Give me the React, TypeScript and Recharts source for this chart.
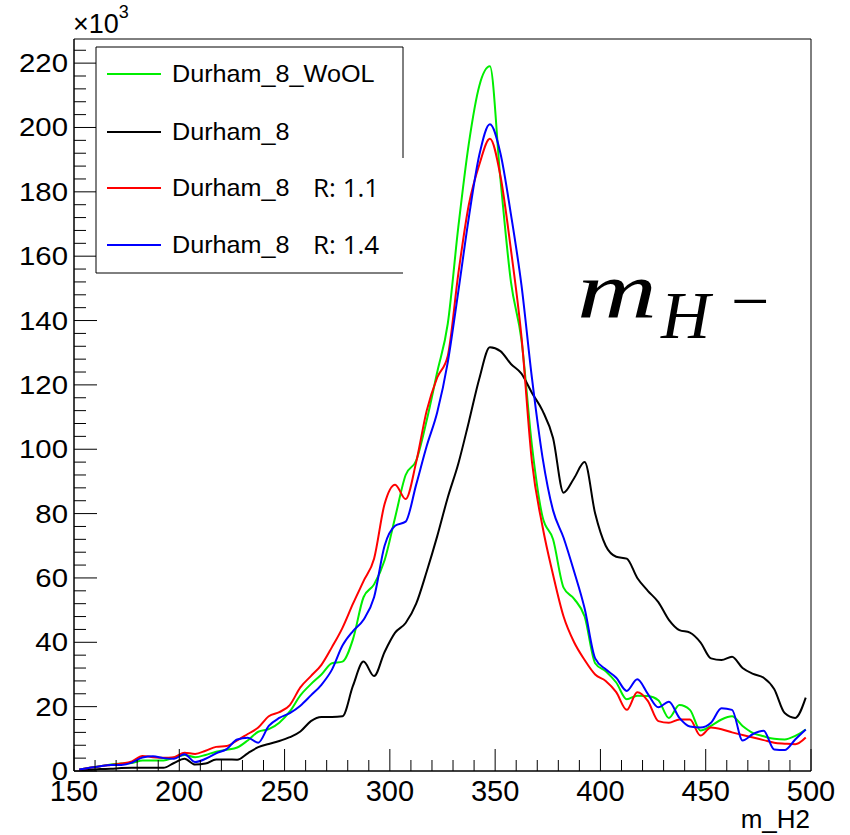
import { LineChart, Line, XAxis, YAxis, ReferenceArea } from 'recharts';

// bin centres of m_H2 (GeV)
const massBins = [
  152.5, 157.5, 162.5, 167.5, 172.5, 177.5, 182.5, 187.5, 192.5, 197.5,
  202.5, 207.5, 212.5, 217.5, 222.5, 227.5, 232.5, 237.5, 242.5, 247.5,
  252.5, 257.5, 262.5, 267.5, 272.5, 277.5, 282.5, 287.5, 292.5, 297.5,
  302.5, 307.5, 312.5, 317.5, 322.5, 327.5, 332.5, 337.5, 342.5, 347.5,
  352.5, 357.5, 362.5, 367.5, 372.5, 377.5, 382.5, 387.5, 392.5, 397.5,
  402.5, 407.5, 412.5, 417.5, 422.5, 427.5, 432.5, 437.5, 442.5, 447.5,
  452.5, 457.5, 462.5, 467.5, 472.5, 477.5, 482.5, 487.5, 492.5, 497.5,
];

// entries, in units of 10^3
const woolValues = [
  0.5, 1.0, 1.5, 2.0, 2.3, 2.5, 3.3, 3.3, 3.3, 4.2,
  5.0, 4.3, 5.0, 6.0, 6.6, 7.3, 9.5, 12.2, 13.0, 15.0,
  18.5, 23.5, 27.0, 30.0, 33.5, 34.0, 41.0, 54.0, 58.0, 65.5,
  78.8, 92.0, 96.5, 109.0, 124.0, 139.0, 169.0, 195.0, 213.0, 219.0,
  184.0, 152.0, 134.0, 101.0, 79.0, 72.0, 57.0, 53.5, 48.0, 33.5,
  31.0, 27.5, 22.3, 23.4, 23.3, 22.0, 16.5, 20.5, 19.0, 12.6,
  14.0, 16.0, 17.0, 14.0, 11.8, 10.8, 10.0, 9.8, 10.9, 12.9,
];

const durhamValues = [
  0.2, 0.4, 0.6, 0.7, 0.9, 1.0, 1.0, 1.0, 1.0, 2.5,
  3.8, 2.0, 2.3, 3.6, 3.6, 3.5, 5.5, 7.4, 8.4, 9.3,
  10.5, 12.3, 15.5, 16.8, 16.8, 17.0, 26.5, 34.0, 29.5, 37.0,
  43.0, 46.0, 52.0, 62.0, 73.0, 85.0, 95.5, 108.5, 122.0, 131.7,
  130.5, 126.5, 123.5, 117.5, 112.0, 103.5, 86.5, 91.0, 96.0, 80.0,
  70.0, 66.6, 66.0, 60.0, 56.0, 52.5, 47.0, 43.8, 43.0, 40.0,
  35.0, 34.5, 35.5, 32.0, 30.2, 29.0, 25.5, 18.0, 16.5, 22.8,
];

const r11Values = [
  0.5, 1.0, 1.5, 1.9, 2.3, 3.0, 4.7, 4.3, 4.1, 4.3,
  5.7, 5.3, 6.3, 7.5, 7.8, 9.5, 11.5, 13.5, 17.0, 18.3,
  20.5, 26.0, 29.5, 33.0, 38.5, 44.5, 52.0, 59.0, 66.0, 83.0,
  89.0, 84.5, 96.0, 112.0, 122.3, 129.0, 154.5, 176.0, 188.5, 196.5,
  185.0, 162.0, 135.0, 96.0, 76.0, 61.0, 48.0, 40.0, 34.5, 30.0,
  28.0, 24.5, 19.0, 24.5, 21.8, 15.5, 15.0, 16.0, 16.0, 11.0,
  13.5, 13.0, 12.0, 11.2, 10.4, 9.6, 8.8, 8.5, 8.3, 10.4,
];

const r14Values = [
  0.5, 1.0, 1.5, 1.9, 1.9, 2.6, 4.2, 4.6, 4.0, 3.8,
  5.2, 2.8, 3.8, 5.5, 6.8, 9.8, 10.3, 8.8, 14.0, 16.5,
  18.0, 20.3, 23.5, 26.8, 31.5, 39.0, 43.5, 47.0, 54.0, 70.0,
  76.2, 77.5, 89.0, 101.0, 111.5, 127.0, 149.0, 172.0, 191.5, 201.0,
  192.0, 173.0, 151.0, 122.0, 97.5, 81.0, 72.5, 62.0, 50.5, 35.0,
  31.6, 29.0, 24.9, 28.5, 24.0, 19.8, 21.5, 16.5, 13.8, 13.5,
  15.0, 19.5, 19.0, 9.5, 11.5, 12.5, 6.7, 6.5, 9.8, 12.9,
];

const xTicks = [
  150, 160, 170, 180, 190, 200, 210, 220, 230, 240, 250, 260, 270, 280, 290, 300,
  310, 320, 330, 340, 350, 360, 370, 380, 390, 400, 410, 420, 430, 440, 450, 460,
  470, 480, 490, 500,
];
const xLabels = [150, 200, 250, 300, 350, 400, 450, 500];

const yTicks = [
  0, 4, 8, 12, 16, 20, 24, 28, 32, 36, 40, 44, 48, 52, 56, 60, 64, 68, 72, 76, 80,
  84, 88, 92, 96, 100, 104, 108, 112, 116, 120, 124, 128, 132, 136, 140, 144, 148,
  152, 156, 160, 164, 168, 172, 176, 180, 184, 188, 192, 196, 200, 204, 208, 212,
  216, 220, 224,
];
const yLabels = [0, 20, 40, 60, 80, 100, 120, 140, 160, 180, 200, 220];

const series = [
  { key: 'wool', name: 'Durham_8_WoOL', extra: '', color: '#00ee00' },
  { key: 'durham', name: 'Durham_8', extra: '', color: '#000000' },
  { key: 'r11', name: 'Durham_8', extra: 'R: 1.1', color: '#ff0000' },
  { key: 'r14', name: 'Durham_8', extra: 'R: 1.4', color: '#0000ff' },
];

const data = massBins.map((m, i) => ({
  m,
  wool: woolValues[i],
  durham: durhamValues[i],
  r11: r11Values[i],
  r14: r14Values[i],
}));

const sans = '"Liberation Sans", Arial, Helvetica, sans-serif';
const serif = '"Liberation Serif", "DejaVu Serif", serif';

function XTick(props: any) {
  const { x, y, payload } = props;
  const major = xLabels.includes(payload.value);
  return (
    <g>
      <line x1={x} x2={x} y1={y} y2={y - (major ? 22 : 11)} stroke="#000" strokeWidth={1} />
      {major && (
        <text x={x} y={y + 30} textAnchor="middle" fontSize={29} fontFamily={sans} fill="#000">
          {payload.value}
        </text>
      )}
    </g>
  );
}

function YTick(props: any) {
  const { x, y, payload } = props;
  const major = yLabels.includes(payload.value);
  return (
    <g>
      <line x1={x} x2={x + (major ? 23 : 12)} y1={y} y2={y} stroke="#000" strokeWidth={1} />
      {major && (
        <text
          transform={`translate(${x - 6},${y + 9}) scale(1.13,1)`}
          textAnchor="end"
          fontSize={26}
          fontFamily={sans}
          fill="#000"
        >
          {payload.value}
        </text>
      )}
    </g>
  );
}

const legendRows = [74, 132, 188, 245];

export default function App() {
  return (
    <div style={{ position: 'absolute', left: 0, top: 0, width: 850, height: 835, background: '#fff' }}>
      <LineChart width={850} height={835} data={data} margin={{ top: 39, right: 39, bottom: 0, left: 0 }}>
        <XAxis
          dataKey="m"
          type="number"
          domain={[150, 500]}
          allowDataOverflow
          ticks={xTicks}
          interval={0}
          height={64}
          tickSize={0}
          tickMargin={0}
          tickLine={false}
          axisLine={{ stroke: '#000' }}
          tick={<XTick />}
        />
        <YAxis
          type="number"
          domain={[0, 227.5]}
          allowDataOverflow
          ticks={yTicks}
          interval={0}
          width={74}
          tickSize={0}
          tickMargin={0}
          tickLine={false}
          axisLine={{ stroke: '#000' }}
          tick={<YTick />}
        />
        <ReferenceArea x1={150} x2={500} y1={0} y2={227.5} fill="none" fillOpacity={0} stroke="#000" strokeWidth={1} />
        {series.map((s) => (
          <Line
            key={s.key}
            type="monotone"
            dataKey={s.key}
            stroke={s.color}
            strokeWidth={2}
            dot={false}
            activeDot={false}
            isAnimationActive={false}
          />
        ))}
      </LineChart>

      <svg width={850} height={835} style={{ position: 'absolute', left: 0, top: 0, pointerEvents: 'none' }}>
        {/* exponent */}
        <text x={73} y={33} fontSize={27} fontFamily={sans} fill="#000">
          ×10
          <tspan dy={-15} fontSize={18}>3</tspan>
        </text>

        {/* legend */}
        <rect x={96} y={47} width={307} height={226} fill="#fff" />
        <path d="M403,158 L403,47 L96,47 L96,273 L403,273" fill="none" stroke="#000" strokeWidth={1} />
        {series.map((s, i) => (
          <g key={s.key}>
            <line x1={107} x2={161} y1={legendRows[i]} y2={legendRows[i]} stroke={s.color} strokeWidth={2} />
            <text
              transform={`translate(172,${legendRows[i] + 8}) scale(1.05,1)`}
              fontSize={24}
              fontFamily={sans}
              fill="#000"
            >
              {s.name}
            </text>
            {s.extra && (
              <text x={313} y={legendRows[i] + 9} fontSize={26} fontFamily='"Open Sans", Lato, sans-serif' fill="#000">
                {s.extra}
              </text>
            )}
          </g>
        ))}

        {/* annotation */}
        <text x={577} y={317} fontSize={80} fontStyle="italic" fontFamily={serif} textLength={80} lengthAdjust="spacingAndGlyphs" fill="#000">
          m
        </text>
        <text x={661} y={338} fontSize={68} fontStyle="italic" fontFamily={serif} fill="#000">
          H
        </text>
        <text x={731} y={324} fontSize={68} fontFamily={serif} fill="#000">
          −
        </text>

        {/* axis title */}
        <text x={810} y={828} textAnchor="end" fontSize={26} fontFamily={sans} fill="#000">
          m_H2
        </text>
      </svg>
    </div>
  );
}
